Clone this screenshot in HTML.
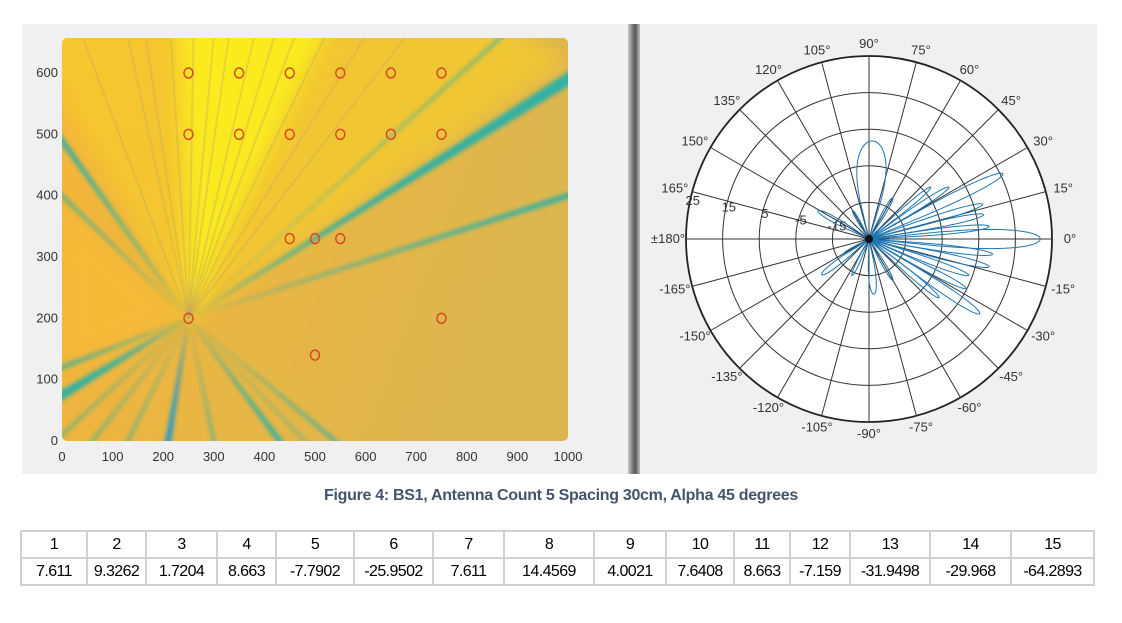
<!DOCTYPE html>
<html><head><meta charset="utf-8"><style>
body{margin:0;width:1122px;height:623px;background:#fff;position:relative;overflow:hidden;font-family:"Liberation Sans",sans-serif}
#left{position:absolute;left:22px;top:24px;width:606px;height:450px;background:#f0f0f0}
#div{position:absolute;left:628px;top:24px;width:12px;height:450px;background:linear-gradient(90deg,#c8c8c8,#7a7a7a 40%,#555 60%,#bdbdbd)}
#right{position:absolute;left:640px;top:24px;width:457px;height:450px;background:#f0f0f0}
svg{position:absolute;left:0;top:0}
#cap{position:absolute;left:0;width:1122px;top:487px;text-align:center;font-weight:bold;font-size:16px;color:#44546a;letter-spacing:-0.3px}
table{position:absolute;left:20px;top:530px;border-collapse:collapse;table-layout:fixed;width:1073px;font-size:16px;color:#000;letter-spacing:-0.6px}
td{border:2px solid #d0d0d0;text-align:center;padding:0;height:25px;white-space:nowrap;overflow:hidden}
</style></head><body>
<div id="left"></div>
<div id="div"></div>
<div id="right"></div>
<svg id="chart" width="1122" height="623"></svg>
<div id="cap">Figure 4: BS1, Antenna Count 5 Spacing 30cm, Alpha 45 degrees</div>
<table>
<colgroup><col style="width:66px"><col style="width:59px"><col style="width:71px"><col style="width:59px"><col style="width:78px"><col style="width:79px"><col style="width:71px"><col style="width:90px"><col style="width:72px"><col style="width:68px"><col style="width:56px"><col style="width:60px"><col style="width:80px"><col style="width:81px"><col style="width:83px"></colgroup>
<tr><td>1</td><td>2</td><td>3</td><td>4</td><td>5</td><td>6</td><td>7</td><td>8</td><td>9</td><td>10</td><td>11</td><td>12</td><td>13</td><td>14</td><td>15</td></tr>
<tr><td>7.611</td><td>9.3262</td><td>1.7204</td><td>8.663</td><td>-7.7902</td><td>-25.9502</td><td>7.611</td><td>14.4569</td><td>4.0021</td><td>7.6408</td><td>8.663</td><td>-7.159</td><td>-31.9498</td><td>-29.968</td><td>-64.2893</td></tr>
</table>
<script>
// heatmap data
const xTicks=[0,100,200,300,400,500,600,700,800,900,1000];
const yTicks=[0,100,200,300,400,500,600];
const source=[250,200];
const markersX=[250,350,450,550,650,750,250,350,450,550,650,750,450,500,550,250,750,500];
const markersY=[600,600,600,600,600,600,500,500,500,500,500,500,330,330,330,200,200,140];
// teal beams: end points & strength
const beamX=[1000,1000,870,0,0,0,0,210,430,540,130,60,0,300,480];
const beamY=[590,400,660,490,400,75,120,0,0,0,0,0,10,0,0];
const beamW=[16,7,3,7,4,12,5,8,7,4,3,3,3,3,2];
// faint rays to top edge (x at y=660)
const rayX=[40,130,165,215,260,300,330,380,420,460,520,600,680];
// polar data
const angTicks=[0,15,30,45,60,75,90,105,120,135,150,165,180,-165,-150,-135,-120,-105,-90,-75,-60,-45,-30,-15];
const ringVals=[-15,-5,5,15,25];
const lobeAng=[0,6,12,17,26,33,40,88,-7,-13,-20,-27,-34,-40,-85,-60,151,-143,120,-115,60,-150];
const lobeGain=[21.8,8,7,7.5,15.7,1,-3,1.8,9,8.7,4,4.7,11.5,0,-9.9,-12,-9,-8.8,-16,-14,-12,-17];
const lobeWid=[6,3,3,3,3.5,3,3,16,3,3,3,3,3.5,3,7,4,5,5,4,4,4,4];

const NS="http://www.w3.org/2000/svg";
const svg=document.getElementById('chart');
function mk(t,a,p){const e=document.createElementNS(NS,t);for(const k in a)e.setAttribute(k,a[k]);(p||svg).appendChild(e);return e;}
const X0=62,X1=568,YB=441,YT=38;
const sx=v=>X0+v*(X1-X0)/1000;
const sy=v=>YB-v*(YB-73)/600;

const defs=mk('defs',{});
const cp=mk('clipPath',{id:'hc'},defs);mk('rect',{x:X0,y:YT,width:X1-X0,height:YB-YT,rx:5},cp);
const lg=mk('linearGradient',{id:'bg',x1:0,y1:0,x2:1,y2:0.3},defs);
mk('stop',{offset:0,'stop-color':'#f6b538'},lg);mk('stop',{offset:1,'stop-color':'#dcb64f'},lg);
const bl=mk('filter',{id:'bl'},defs);mk('feGaussianBlur',{stdDeviation:2},bl);
const bl2=mk('filter',{id:'bl2'},defs);mk('feGaussianBlur',{stdDeviation:10},bl2);

const hm=mk('g',{'clip-path':'url(#hc)'});


mk('rect',{x:X0,y:YT,width:X1-X0,height:YB-YT,fill:'url(#bg)'},hm);
const S=[sx(source[0]),sy(source[1])];
mk('polygon',{points:`${S[0]},${S[1]} ${sx(-100)},${sy(700)} ${sx(850)},${sy(700)} ${sx(1000)},${sy(620)}`,fill:'#f7cf2a',opacity:0.65,filter:'url(#bl2)'},hm);
mk('polygon',{points:`${S[0]},${S[1]} ${sx(230)},${sy(700)} ${sx(540)},${sy(700)}`,fill:'#fbf11c',opacity:0.85,filter:'url(#bl2)'},hm);
mk('polygon',{points:`${S[0]},${S[1]} ${sx(0)},${sy(380)} ${sx(0)},${sy(130)}`,fill:'#fbbd30',opacity:0.6,filter:'url(#bl2)'},hm);
rayX.forEach((x,i)=>{const l=mk('line',{x1:S[0],y1:S[1],x2:sx(x),y2:sy(660),stroke:'#c0a860',"stroke-width":2,opacity:0.35},hm);

});
beamX.forEach((x,i)=>{const w=beamW[i];
const dx=sx(x)-S[0],dy=sy(beamY[i])-S[1],L=Math.hypot(dx,dy),nx=-dy/L*w/2,ny=dx/L*w/2;
const ex=S[0]+dx*1.3,ey=S[1]+dy*1.3;
const p=mk('polygon',{points:`${S[0]},${S[1]} ${ex+nx},${ey+ny} ${ex-nx},${ey-ny}`,fill:i==7?'#1a98d0':'#2ab0a8',opacity:0.95,filter:'url(#bl)'},hm);

});
markersX.forEach((x,i)=>{const c=mk('ellipse',{cx:sx(x),cy:sy(markersY[i]),rx:4.5,ry:5,fill:'none',stroke:'#d9482a','stroke-width':1.5});

});
xTicks.forEach(v=>{const t=mk('text',{x:sx(v),y:461,'text-anchor':'middle','font-size':13,fill:'#333'});t.textContent=v;

});
yTicks.forEach(v=>{const t=mk('text',{x:58,y:sy(v)+4,'text-anchor':'end','font-size':13,fill:'#333'});t.textContent=v;

});

// polar
const CX=869,CY=239,R=183,RMIN=-25,RMAX=25;
const rr=g=>Math.max(0,(g-RMIN)/(RMAX-RMIN))*R;
const pg=mk('g',{});


mk('circle',{cx:CX,cy:CY,r:R,fill:'#fff',stroke:'#222','stroke-width':1.8},pg);
ringVals.slice(0,4).forEach(v=>mk('circle',{cx:CX,cy:CY,r:rr(v),fill:'none',stroke:'#333','stroke-width':1},pg));
for(let a=0;a<180;a+=15){const t=a*Math.PI/180;mk('line',{x1:CX-R*Math.cos(t),y1:CY+R*Math.sin(t),x2:CX+R*Math.cos(t),y2:CY-R*Math.sin(t),stroke:'#333','stroke-width':1},pg);}
angTicks.forEach(a=>{const t=a*Math.PI/180;const lx=CX+(R+18)*Math.cos(t),ly=CY-(R+12)*Math.sin(t)+4;
const e=mk('text',{x:lx,y:ly,'text-anchor':'middle','font-size':13,fill:'#333'},pg);e.textContent=(a==180?'\u00b1180':a)+'\u00b0';

});
ringVals.forEach(v=>{const t=170*Math.PI/180;const e=mk('text',{x:CX+rr(v)*Math.cos(t)+4,y:CY-rr(v)*Math.sin(t)-2,'text-anchor':'middle','font-size':13,fill:'#333'},pg);e.textContent=v;

});
lobeAng.forEach((c,i)=>{let pts=[];const w=lobeWid[i],rm=rr(lobeGain[i]);
for(let k=0;k<=40;k++){const d=-w+2*w*k/40;const f=Math.cos(Math.PI/2*d/w);const r=rm*Math.pow(f,0.35);const t=(c+d)*Math.PI/180;pts.push((CX+r*Math.cos(t)).toFixed(1)+','+(CY-r*Math.sin(t)).toFixed(1));}
const p=mk('polygon',{points:pts.join(' '),fill:'none',stroke:'#1f77b4','stroke-width':1},pg);

});
mk('circle',{cx:CX,cy:CY,r:4,fill:'#111'},pg);
</script>
</body></html>
